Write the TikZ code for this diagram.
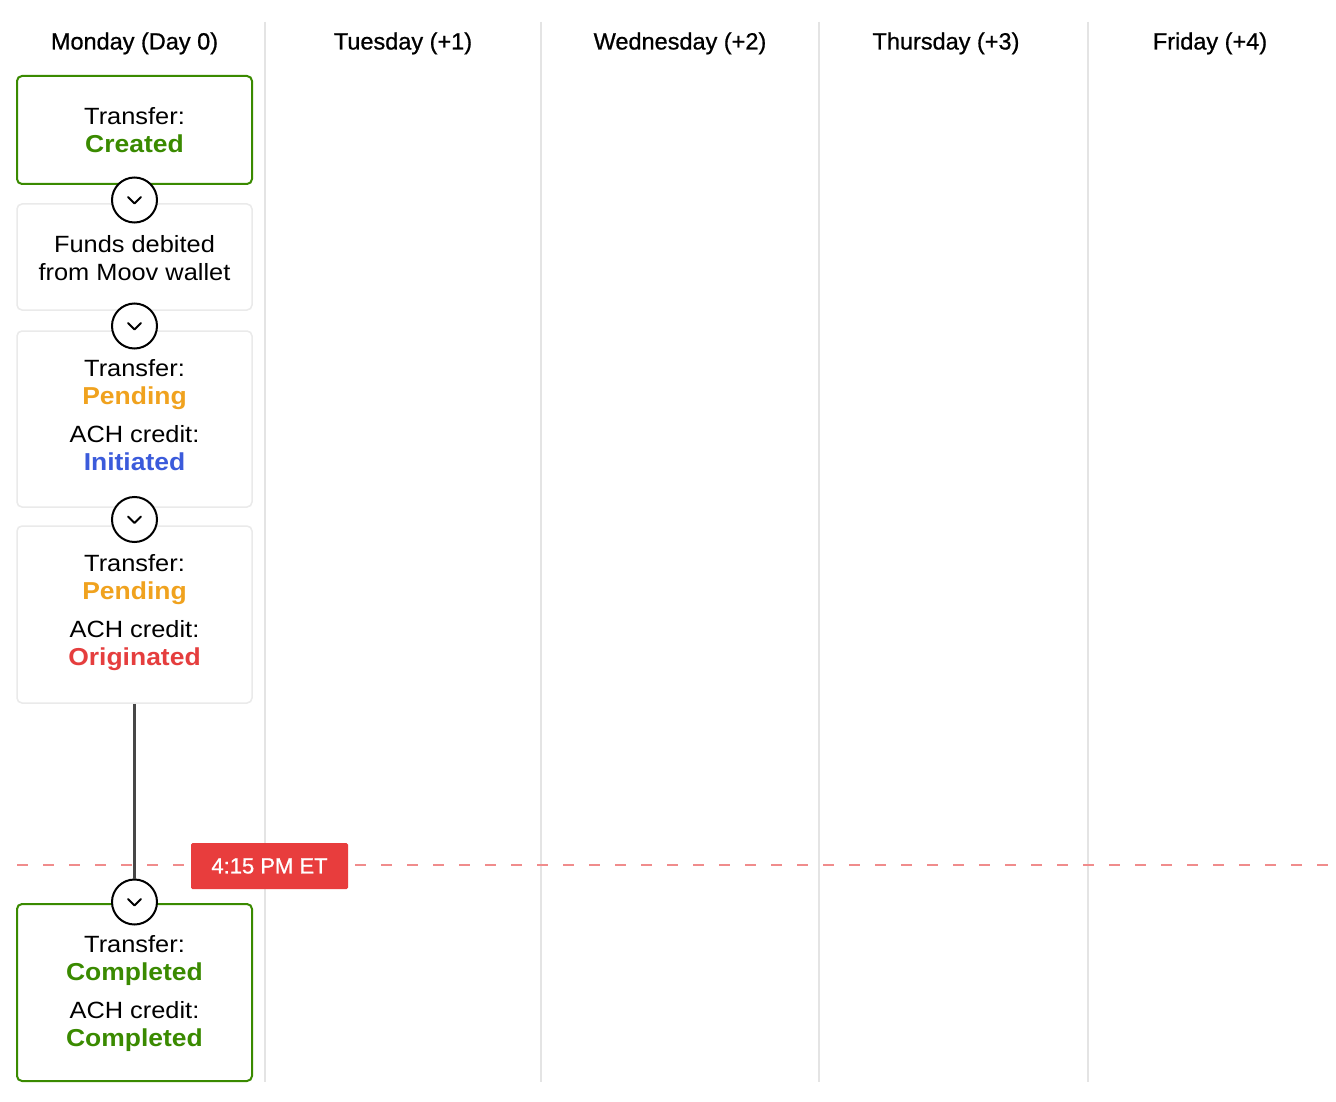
\documentclass[tikz,border=0pt]{standalone}
\usepackage{fontspec}
\setmainfont{Liberation Sans}
\newfontfamily\widesans{Liberation Sans}[FakeStretch=1.08]
\newfontfamily\hdrsans{Liberation Sans}[FakeBold=0.8]
\definecolor{okgreen}{RGB}{58,138,0}
\definecolor{pendorange}{RGB}{240,162,30}
\definecolor{initblue}{RGB}{59,91,219}
\definecolor{origred}{RGB}{229,62,62}
\definecolor{tagred}{RGB}{232,61,61}
\definecolor{cutred}{RGB}{240,140,140}
\definecolor{colline}{RGB}{228,228,228}
\definecolor{boxgray}{RGB}{234,234,234}
\tikzset{
  card/.style={draw=boxgray, line width=1.5pt, rounded corners=5pt, fill=white,
    minimum width=235pt, inner sep=0pt},
  donecard/.style={card, draw=okgreen, line width=2pt},
  lbl/.style={anchor=base, inner sep=0pt, font=\widesans\fontsize{23.5}{28}\selectfont},
  stat/.style={lbl, font=\widesans\fontsize{24.5}{28}\selectfont\bfseries},
  hdr/.style={anchor=base, inner sep=0pt, font=\hdrsans\fontsize{23.5}{28}\selectfont},
  stepcirc/.style={circle, draw=black, line width=2pt, fill=white, minimum size=45pt, inner sep=0pt,
    path picture={\draw[line width=2pt, line cap=round, line join=round]
      ([shift={(-6.5pt,3pt)}]path picture bounding box.center) --
      ([shift={(0pt,-3.5pt)}]path picture bounding box.center) --
      ([shift={(6.5pt,3pt)}]path picture bounding box.center);}},
  colsep/.style={draw=colline, line width=2pt},
}
\begin{document}
\begin{tikzpicture}[x=1pt,y=-1pt]
\useasboundingbox (0,0) rectangle (1336,1102);
\fill[white] (0,0) rectangle (1336,1102);

% column separators
\coordinate (s1t) at (265,22); \coordinate (s1b) at (265,1082);
\coordinate (s2t) at (541,22); \coordinate (s2b) at (541,1082);
\coordinate (s3t) at (819,22); \coordinate (s3b) at (819,1082);
\coordinate (s4t) at (1088,22); \coordinate (s4b) at (1088,1082);
\draw[colsep] (s1t) -- (s1b);
\draw[colsep] (s2t) -- (s2b);
\draw[colsep] (s3t) -- (s3b);
\draw[colsep] (s4t) -- (s4b);

% headers
\node[hdr] (h0) at (134.5,49.5) {Monday (Day 0)};
\node[hdr] (h1) at (403,49.5) {Tuesday (+1)};
\node[hdr] (h2) at (680,49.5) {Wednesday (+2)};
\node[hdr] (h3) at (946,49.5) {Thursday (+3)};
\node[hdr] (h4) at (1210,49.5) {Friday (+4)};

% cards
\node[donecard, minimum height=108pt] (b1) at (134.5,130) {};
\node[card, minimum height=106pt] (b2) at (134.5,257) {};
\node[card, minimum height=176pt] (b3) at (134.5,419) {};
\node[card, minimum height=177pt] (b4) at (134.5,614.5) {};

% dashed cut-off line
\coordinate (cutL) at (17,865);
\coordinate (cutR) at (1336,865);
\draw[cutred, line width=2pt, dash pattern=on 11pt off 15pt] (cutL) -- (cutR);

\node[donecard, minimum height=177pt] (b5) at (134.5,992.5) {};

% texts
\node[lbl] (t1a) at (134.5,124.5) {Transfer:};
\node[stat, text=okgreen] (t1b) at (134.5,152.5) {Created};
\node[lbl] (t2a) at (134.5,252.5) {Funds debited};
\node[lbl] (t2b) at (134.5,280.5) {from Moov wallet};
\node[lbl] (t3a) at (134.5,376.5) {Transfer:};
\node[stat, text=pendorange] (t3b) at (134.5,404.5) {Pending};
\node[lbl] (t3c) at (134.5,442.5) {ACH credit:};
\node[stat, text=initblue] (t3d) at (134.5,470.5) {Initiated};
\node[lbl] (t4a) at (134.5,571.5) {Transfer:};
\node[stat, text=pendorange] (t4b) at (134.5,599.5) {Pending};
\node[lbl] (t4c) at (134.5,637.5) {ACH credit:};
\node[stat, text=origred] (t4d) at (134.5,665.5) {Originated};
\node[lbl] (t5a) at (134.5,952.5) {Transfer:};
\node[stat, text=okgreen] (t5b) at (134.5,980.5) {Completed};
\node[lbl] (t5c) at (134.5,1018.5) {ACH credit:};
\node[stat, text=okgreen] (t5d) at (134.5,1046.5) {Completed};

% step circles
\node[stepcirc] (c1) at (134.5,200) {};
\node[stepcirc] (c2) at (134.5,326) {};
\node[stepcirc] (c3) at (134.5,519.5) {};
\node[stepcirc] (c5) at (134.5,902) {};

% waiting connector
\draw[black!72, line width=2.5pt] (b4.south) -- (c5.north);

% cutoff tag
\node[fill=tagred, text=white, rounded corners=1.5pt, minimum width=157pt, minimum height=46pt,
  inner sep=0pt, font=\hdrsans\fontsize{22}{26}\selectfont] (tag) at (269.5,866) {4:15 PM ET};
\end{tikzpicture}
\end{document}
